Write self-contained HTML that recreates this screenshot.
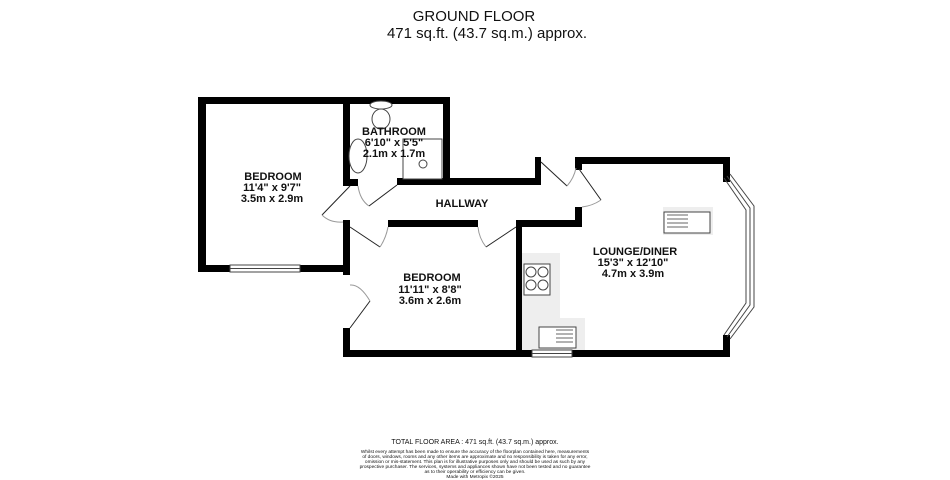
<!DOCTYPE html>
<html><head><meta charset="utf-8"><style>
html,body{margin:0;padding:0;background:#fff;width:950px;height:480px;overflow:hidden}
svg{display:block}
text{font-family:"Liberation Sans",sans-serif;fill:#111}
</style></head><body>
<svg width="950" height="480" viewBox="0 0 950 480">
<text x="474" y="21" font-size="15" text-anchor="middle">GROUND FLOOR</text>
<text x="487" y="38" font-size="15" text-anchor="middle">471 sq.ft. (43.7 sq.m.) approx.</text>
<rect x="522" y="253" width="38" height="97" fill="#eee"/>
<rect x="522" y="318" width="63" height="32" fill="#eee"/>
<rect x="663" y="207" width="50" height="28" fill="#eee"/>
<g fill="#000">
<rect x="198" y="97" width="252" height="7"/>
<rect x="198" y="97" width="8" height="175"/>
<rect x="198" y="265" width="32" height="7"/>
<rect x="300" y="265" width="50" height="7"/>
<rect x="343" y="97" width="7" height="88"/>
<rect x="443" y="97" width="7" height="88"/>
<rect x="343" y="179" width="15" height="7"/>
<rect x="397" y="178" width="144" height="7"/>
<rect x="535" y="157" width="6" height="28"/>
<rect x="575" y="157" width="155" height="7"/>
<rect x="575" y="157" width="7" height="13"/>
<rect x="575" y="207" width="7" height="20"/>
<rect x="723" y="157" width="7" height="25"/>
<rect x="723" y="335" width="7" height="22"/>
<rect x="343" y="220" width="6" height="7"/>
<rect x="388" y="220" width="90" height="7"/>
<rect x="516" y="220" width="66" height="7"/>
<rect x="343" y="220" width="7" height="55"/>
<rect x="343" y="328" width="7" height="29"/>
<rect x="516" y="220" width="6" height="137"/>
<rect x="343" y="350" width="189" height="7"/>
<rect x="572" y="350" width="158" height="7"/>
</g>
<g fill="none" stroke="#444" stroke-width="1">
<rect x="230" y="265" width="70" height="7"/>
<line x1="230" y1="268.5" x2="300" y2="268.5"/>
<rect x="532" y="350" width="40" height="7"/>
<line x1="532" y1="353.5" x2="572" y2="353.5"/>
<polyline points="730,174 754,206 754,307 730,339"/>
<polyline points="727,176 750,208 750,305 727,337"/>
<polyline points="724,178 746,210 746,303 724,335"/>
</g>
<g fill="none" stroke="#222" stroke-width="1">
<line x1="350" y1="186" x2="322" y2="215"/>
<path d="M322 215 Q330 223 343 222" stroke="#999"/>
<line x1="397" y1="185" x2="369" y2="206"/>
<path d="M358 186 Q360 200 369 206" stroke="#999"/>
<line x1="350" y1="227" x2="380" y2="247"/>
<path d="M380 247 Q386 238 388 227" stroke="#999"/>
<line x1="516" y1="227" x2="486" y2="247"/>
<path d="M486 247 Q479 238 478 227" stroke="#999"/>
<line x1="541" y1="162" x2="567" y2="186"/>
<path d="M567 186 Q574 178 576 168" stroke="#999"/>
<line x1="579" y1="169" x2="601" y2="200"/>
<path d="M601 200 Q592 206 582 207" stroke="#999"/>
<line x1="350" y1="328" x2="370" y2="301"/>
<path d="M370 301 Q360 284 350 285" stroke="#999"/>
</g>
<g fill="#fff" stroke="#444" stroke-width="1">
<ellipse cx="381" cy="105" rx="11" ry="4"/>
<ellipse cx="381" cy="119" rx="9" ry="10"/>
<ellipse cx="358" cy="156" rx="9" ry="17"/>
<rect x="403" y="139" width="39" height="40"/>
<circle cx="423" cy="164" r="4"/>
<rect x="524" y="264" width="26" height="31"/>
<circle cx="531" cy="272" r="5"/><circle cx="543" cy="272" r="5"/>
<circle cx="531" cy="285" r="5"/><circle cx="543" cy="285" r="5"/>
<rect x="539" y="327" width="37" height="21"/>
<rect x="664" y="212" width="46" height="21"/>
</g>
<g stroke="#666" stroke-width="1">
<line x1="667" y1="215" x2="688" y2="215"/><line x1="667" y1="219" x2="688" y2="219"/>
<line x1="667" y1="223" x2="688" y2="223"/><line x1="667" y1="227" x2="688" y2="227"/>
<line x1="556" y1="330" x2="573" y2="330"/><line x1="556" y1="334" x2="573" y2="334"/>
<line x1="556" y1="338" x2="573" y2="338"/><line x1="556" y1="342" x2="573" y2="342"/>
</g>
<g font-weight="bold" text-anchor="middle" font-size="11">
<text x="273" y="180">BEDROOM</text>
<text x="272" y="191">11'4"  x 9'7"</text>
<text x="272" y="202">3.5m  x 2.9m</text>
<text x="394" y="135">BATHROOM</text>
<text x="394" y="146">6'10"  x 5'5"</text>
<text x="394" y="157">2.1m  x 1.7m</text>
<text x="462" y="207">HALLWAY</text>
<text x="432" y="281">BEDROOM</text>
<text x="430" y="293">11'11"  x 8'8"</text>
<text x="430" y="304">3.6m  x 2.6m</text>
<text x="635" y="255">LOUNGE/DINER</text>
<text x="633" y="266">15'3"  x 12'10"</text>
<text x="633" y="277">4.7m  x 3.9m</text>
</g>
<g text-anchor="middle" fill="#222">
<text x="475" y="444" font-size="7">TOTAL FLOOR AREA : 471 sq.ft. (43.7 sq.m.) approx.</text>
<text x="475" y="453" font-size="4.8">Whilst every attempt has been made to ensure the accuracy of the floorplan contained here, measurements</text>
<text x="475" y="458" font-size="4.8">of doors, windows, rooms and any other items are approximate and no responsibility is taken for any error,</text>
<text x="475" y="463" font-size="4.8">omission or mis-statement. This plan is for illustrative purposes only and should be used as such by any</text>
<text x="475" y="468" font-size="4.8">prospective purchaser. The services, systems and appliances shown have not been tested and no guarantee</text>
<text x="475" y="473" font-size="4.8">as to their operability or efficiency can be given.</text>
<text x="475" y="478" font-size="4.8">Made with Metropix ©2025</text>
</g>
</svg>
</body></html>
